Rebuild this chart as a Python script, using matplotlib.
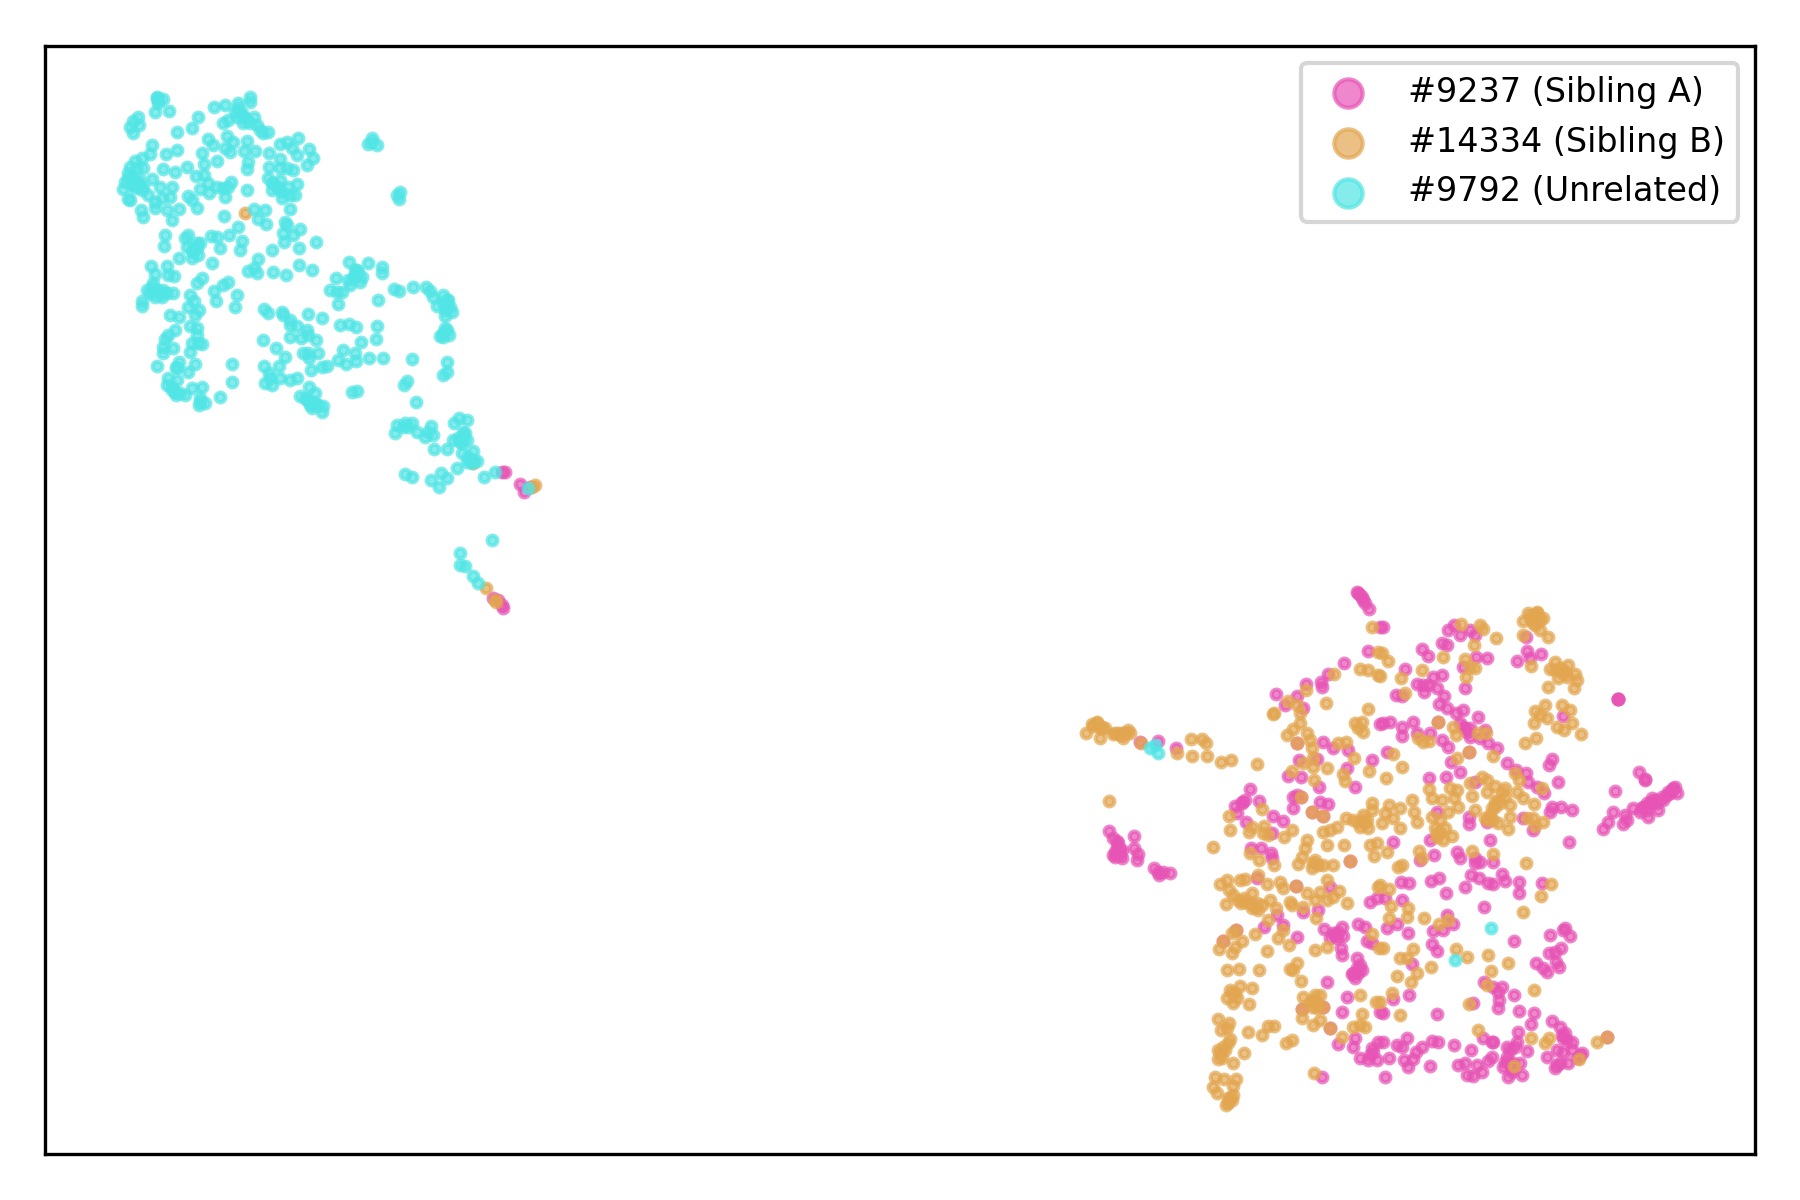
import matplotlib
matplotlib.use("Agg")
import matplotlib.pyplot as plt
import numpy as np

labels = ["#9237 (Sibling A)", "#14334 (Sibling B)", "#9792 (Unrelated)"]
colors = ["#E754B5", "#E3A650", "#52E5E5"]

# Embedding readings, grouped by picture region: (region origin, [(x, y), ...])
cyan_a = [(172,85),(190,88),(165,125),(208,122),(115,140),(100,152),(90,170),(118,165),(100,190),(232,185),(275,175),(295,142),(342,112),(376,105),(450,80),(450,95),(415,100),(405,125),(420,130),(462,142),(370,160),(385,150),(430,160),(450,160),(480,180),(505,187),(490,190),
(325,208),(340,225),(382,197),(398,215),(375,235),(390,245),(440,212),(432,243),(465,243),(157,225),(150,253),(198,252),(230,240),(307,248),(313,283),(352,272),(262,290),(190,297),(226,306),(288,318),(312,315),(445,275),(440,298),(507,250),(540,222),(560,215),(593,205),(575,235),(590,255),(628,237),(640,263),(620,285),(580,300),(560,295),(540,268),(507,290),(540,295),(505,325),(520,340),(535,355),(515,360),(545,385),(570,375),(585,375),(592,342),(565,350),
(125,265),(105,272),(90,290),(110,295),(130,295),(85,310),(75,335),(100,330),(120,330),(68,358),(105,355),(125,360),(90,390),(85,388),(157,327),(145,375),(180,352),(215,352),(185,385),(210,380),(165,395),(122,420),(130,440),(165,415),(200,420),(215,450),(238,417),(265,378),(275,390),(292,415),(300,357),(325,340),(328,368),(350,352),(375,380),(370,355),(393,337),(385,350),(440,360),(373,438),(463,417),(495,420),(473,448),(497,462),(415,472),(570,418),(555,455),(560,465),(550,488),(580,495),(600,477),(552,517),(597,535),(649,517),(427,512),(420,540),(388,495),(352,500),(333,497),(360,535),(517,540),(475,567),(445,603),(462,595),(470,610),(520,607),(557,615),(597,585),(637,600),
(195,495),(193,527),(265,495),(255,503),(290,520),(260,530),(280,545),(295,555),(300,520),(238,565),(275,565),(337,580),
(153,588),(200,588),(165,612),(205,615),(222,618),(160,640),(140,660),(175,660),(200,670),(220,670),(165,680),(185,680),(125,692),(127,708),(290,638),(307,624),(342,662),(370,645),(385,635),(348,694),(412,675),(406,712),(270,675),(283,693),(265,710),(297,720),(285,735),(210,735),(237,742),(270,768),(290,775),(225,780),(205,795),(195,808),(290,795),(275,820),(295,820),(305,822),(270,845),(190,830),(220,835),(188,848),(172,888),(238,875),(228,890),(232,895),(285,882),(265,907),(397,882),(397,937),(205,925),(230,930),(200,945),(215,960),(228,975),(255,975),(275,955),(305,952),(300,985),(315,1000),(298,1005),(360,982),
(492,718),(505,730),(545,725),(550,735),(570,750),(570,765),(590,768),(625,733),(667,745),(622,780),(625,795),(647,810),(602,803),(570,802),(490,810),(527,835),(610,850),(625,850),(653,848),(628,865),(555,862),(538,888),(492,887),(508,910),(540,925),(570,930),(590,925),(495,940),(515,945),(510,925),(632,900),(665,890),(682,888),(715,870),(737,883),(728,840),(766,850),(768,872),(782,817),(808,865),(850,865),(829,808),(832,768),(720,765),(748,762),(767,770),(835,690),(715,703),(690,660),(710,665),(725,665),(708,625),(748,575),(803,580),(745,630),(750,645),(770,600),(785,620),(780,635),(765,615),(847,592),(845,610),(882,657),(897,662),(940,652),(977,652),(990,662),(1000,680),(1030,675),(1045,690),(1012,708),(1040,705),(1055,725),(1035,738),(1035,775),(1020,797),(1048,795),(1030,800),(937,868),(1042,875),(1040,905),(1030,915),(922,932),(913,945),(948,996),(755,967),(772,963),
(628,950),(645,970),(600,978),(615,985),(630,1005),(668,1008),(640,1000),(817,215),(805,222),(830,225),(815,205),(900,365),(890,375),(897,388)]
cyan_a_dense = [(415,115),(425,130),(410,140),(435,145),(440,150),(470,165),(100,320),(110,340),(95,345),(85,325),(115,345),(130,350),(155,650),(165,665),(150,670),(180,670),(190,660),(540,330),(530,350),(545,365),(515,340),(1040,690),(1050,710),(1035,720),(1030,700),(1030,790),(1040,780),(285,530),(275,540),(290,535),(215,950),(225,965),(240,970),(300,995),(620,990),(630,995),(645,1000),(655,1005),(765,600),(775,610),(760,625),(172,80),(175,90),(175,100)]
orange_a = [(435,430)]

cyan_b = [(640,340),(665,365),(635,355),(890,405),(885,430),(910,410),(935,398),(950,425),(975,440),(992,408),(1000,435),(985,425),(1078,385),(1100,390),(1062,400),(1090,425),(1100,450),(1060,450),(1085,460),(1003,478),(1040,478),(1085,488),(1120,483),(1105,500),(1130,512),(1115,520),(1072,535),(915,552),(937,562),(993,570),(1023,548),(1040,565),(1018,590),(1153,562),(1185,547),(1285,595),(1175,750),(1080,790),(1080,825),(1095,828),(1120,858),(1135,878),
(1090,440),(1075,445),(1095,430),(1110,510),(1100,515),(1120,510),(1080,455),(925,410),(915,400)]
orange_b = [(1120,520),(1157,895),(1187,935),(1185,930),(1305,585),(1295,590)]
pink_b = [(1205,545),(1215,545),(1260,582),(1272,605),(1290,590),(1180,925),(1195,930),(1205,945),(1210,955)]

pink_c = [(241,515),(295,513),(348,534),(892,65),(900,75),(910,90),(915,100),(928,118),(925,243),(853,280),(803,313),(782,335),(785,350),(738,342),(648,372),(675,405),(712,378),(728,415),(790,516),(820,535),(865,540),(935,570),(862,595),(885,650),(778,652),(718,570),(770,568),(683,618),(722,620),(700,680),(712,675),(700,715),(780,695),(805,703),(570,657),(597,692),(525,708),(545,700),(555,690),(530,730),(557,755),(638,738),(670,753),(635,790),(572,835),(602,833),(632,850),(635,865),(148,783),(222,798),(160,805),(175,820),(180,840),(165,860),(185,865),(222,835),(235,853),(230,870),(283,893),(960,462),(960,172),
(712,520),(755,725),(788,737),(871,873),(724,680),
(170,830),(175,850),(165,845),(185,840),(180,855),(160,855),(172,812),(895,68),(905,82),(545,695)]
orange_c = [(78,490),(95,462),(112,455),(125,470),(135,475),(120,505),(160,492),(175,490),(190,505),(185,488),(205,480),(210,490),(243,518),(352,550),(392,508),(395,558),(425,508),(438,518),(442,558),(483,576),(512,570),(592,582),(148,693),
(937,172),(955,245),(900,297),(925,300),(955,315),(822,313),(799,400),(925,417),(885,460),(905,455),(895,475),(910,485),(685,392),(737,360),(710,405),(720,430),(642,430),(720,460),(700,478),(680,495),(742,488),(750,510),(755,535),(712,520),(835,520),(858,515),(883,565),(928,603),(800,595),(758,592),(760,565),(728,580),(697,603),(850,613),(855,632),(762,630),(724,680),(755,725),(788,737),(937,700),(857,743),(880,750),(910,735),(900,770),(925,775),(935,720),(605,717),(508,738),(511,780),(567,785),(575,772),(612,767),(610,790),(625,795),(695,780),(673,802),(790,787),(810,780),(830,772),(740,810),(735,835),(725,860),(715,882),(800,825),(853,825),(930,825),(950,820),(943,858),(871,873),(765,870),(775,885),(755,895),(790,885),(818,885),(570,850),(597,870),(642,885),(460,832),
(110,460),(120,475),(100,468),(165,490),(180,495),(195,490),(905,750),(895,755),(915,760),(920,750),(640,432),(760,880)]
cyan_c = [(270,535),(285,525),(295,550)]

pink_d = [(8,172),(205,180),(222,165),(240,195),(270,180),(285,195),(185,218),(200,225),(127,237),(145,257),(287,260),(320,265),(250,290),(254,355),(75,297),(110,343),(130,345),(145,345),(160,320),(185,315),(133,365),(170,355),(48,375),(65,378),(193,378),(178,403),(200,415),(228,430),(250,420),(295,440),(437,200),(442,243),(483,253),(412,273),(450,265),(550,438),(715,388),(715,388),(715,388),(10,458),(30,455),(100,456),(67,470),(67,498),(110,490),(150,490),(185,510),(205,530),(250,470),(270,475),(270,500),(315,480),(300,505),(325,520),(350,535),(20,546),(213,577),(241,606),(148,624),(197,621),(382,580),(408,600),(437,610),(445,635),(470,650),(493,670),(515,568),(507,585),(535,636),(515,710),(542,712),(577,720),(510,725),(430,745),(460,780),(285,635),(170,725),(268,740),(268,763),(320,757),(330,810),(567,815),(150,810),(40,817),(162,855),(230,845),(240,865),(285,865),(300,875),(338,877),(285,880),(120,870),
(778,606),(795,630),(706,663),(700,726),(685,757),(670,778),(730,763),(735,735),(740,750),(760,715),(780,725),(805,740),(800,700),(815,685),(830,700),(835,720),(850,690),(860,675),(875,660),(885,650),(890,670),(175,457),(268,547),
(790,710),(800,720),(820,700),(845,680),(865,665),(880,655),(870,670),(785,715),(810,700),(825,690),(795,628),(255,475),(260,485),(240,460)]
orange_d = [(243,163),(300,165),(308,178),(349,203),(283,226),(190,262),(255,268),(270,290),(285,295),(258,322),(125,300),(25,273),(63,323),(75,370),(5,250),(0,318),
(470,130),(445,130),(430,153),(460,150),(480,150),(490,145),(465,165),(480,180),(430,195),(505,202),(453,288),(525,275),(510,298),(540,295),(565,285),(555,310),(585,312),(535,325),(590,330),(505,350),(583,355),(495,405),(465,422),(480,435),(500,445),(463,458),(547,404),(570,420),(575,458),(530,470),(553,480),(604,492),(467,505),(436,519),(175,457),(220,470),(227,495),(115,505),(130,515),(148,513),(295,490),(318,490),(268,547),(340,558),(232,565),(40,552),(67,592),(18,625),
(148,657),(155,685),(185,690),(210,655),(230,660),(222,685),(235,712),(205,725),(270,640),(275,678),(305,620),(320,630),(345,648),(320,665),(375,655),(375,680),(345,695),(335,715),(360,700),(390,705),(410,665),(430,685),(417,630),(405,608),(485,655),(463,703),(285,720),(315,745),(340,750),(355,760),(385,778),(390,740),(440,745),(460,745),(465,768),(490,757),(95,690),(60,715),(28,705),(15,730),(103,725),(110,757),(40,745),(5,760),(60,775),(155,740),(180,750),(165,775),(195,775),(170,800),(215,798),(190,810),(275,843),(340,853),(118,842),(125,865),(65,885),(55,890),(20,847),(438,880),
(455,135),(470,125),(460,160),(475,145),(465,140),(450,145),(550,300),(545,310),(560,320),(525,300),(330,735),(325,750),(345,710),(355,690),(365,665),(170,790),(180,785)]

pink_e = [(297,75),(310,65),(330,70),(295,65),(590,85),(810,110),(650,195),(613,230),(668,225),(712,262),(728,185),(775,180),(793,238),(845,230),(825,255),(850,258),(810,265),(843,293),(845,315),(895,222),(915,232),(920,272),(935,280),(890,325),(900,345),(880,370),(905,360),(885,385),(800,397),(860,442),(847,487),(950,145),(930,155),(835,582),(885,565),(880,590),(955,575),(900,625),(940,605),(925,630),(950,630),(785,682),(960,485),
(527,240),(490,272),(708,108),(790,470),(725,477),(810,535),(820,250),(830,265),(835,245),(890,355),(895,370),(875,372),(935,595),(930,615)]
orange_e = [(480,103),(500,90),(540,90),(555,88),(507,120),(520,135),(577,128),(553,145),(543,160),(497,162),(590,160),(605,165),(575,175),(595,180),(630,150),(647,175),(620,103),(660,97),(670,113),(708,108),(595,75),(740,130),(800,90),(838,122),(820,140),(800,150),(780,125),(765,150),(690,155),(695,165),(730,170),(768,203),(862,160),(955,110),(625,210),(585,253),(670,240),(653,265),(688,285),(622,303),(527,240),(515,250),(545,273),(490,272),(478,296),(525,290),(516,310),(502,360),(536,357),(598,360),(690,357),(710,340),(700,360),(722,392),(540,407),(575,414),(510,420),(525,430),(500,445),(530,445),(520,460),(568,463),(475,507),(507,518),(500,535),(483,540),(565,547),(607,555),(625,527),(642,528),(510,567),(490,590),(475,600),(473,628),(485,625),(553,610),(518,640),(677,580),(697,570),(465,680),(493,688),(527,687),(520,708),(460,712),(470,730),(505,745),(515,750),(498,765),(520,735),(763,670),
(730,440),(765,435),(780,435),(755,470),(770,475),(790,470),(725,477),(727,505),(760,525),(780,510),(810,535),(845,560),(880,530),(900,525),(915,530),(905,492),(900,436),(947,455),(937,253),(958,295),(800,292),(765,300),
(555,155),(570,160),(585,170),(535,150),(480,610),(495,600),(505,580),(515,430),(510,745),(505,760),(760,450),(770,460),(750,455)]

pink_f = [(272,75),(297,85),(325,100),(340,103),(365,72),(375,92),(418,97),(418,130),(487,98),(152,92),(176,85),(62,97),(88,100),(197,130),(256,112),(65,150),(15,143),(313,172),(200,195),(218,223),(160,243),(190,240),(22,233),(50,223),(85,250),(403,273),(511,256),(555,233),(550,240),(569,257),(155,283),(170,302),(95,343),(507,310),(525,305),(542,295),(527,335),(537,350),(468,340),(490,355),(500,365),(313,397),(340,410),(365,412),(355,425),(358,450),(355,475),(403,436),(278,460),(418,484),(463,490),(454,523),(515,514),(540,530),(555,550),(575,575),(88,436),(40,448),(172,493),(8,488),(415,545),(310,565),(335,575),(340,575),(82,565),(10,575),(50,585),(65,590),(125,590),(108,605),(155,573),(175,575),(222,586),(274,601),(28,625),(72,630),(100,628),(85,650),(150,649),(15,682),(380,590),(410,575),(440,603),(335,620),(325,632),(380,620),(370,650),(400,640),(385,680),(425,675),(420,640),(235,645),(255,640),(260,675),(280,678),(290,645),(305,665),(500,622),(530,600),(550,605),(575,600),(605,610),(525,655),(540,640),(565,640),(595,625),(682,562),
(385,635),(395,655),(375,635),(390,600),(405,590),(550,565),(560,570),(545,555),(530,645),(600,615),(395,665)]
orange_f = [(513,102),(484,138),(430,187),(133,205),(177,222),(203,210),(83,175),(80,200),(33,168),(27,205),(8,295),(100,297),(60,323),(80,325),(152,352),(112,370),(52,378),(93,397),(229,296),(260,322),(325,316),(385,340),(334,364),(322,405),(463,421),(37,430),(268,463),(61,495),(295,540),(453,565),(495,578),(508,563),(652,577),(682,562),(403,647),(597,628),(0,455),(28,118),(0,105)]
cyan_f = [(334,235),(226,331)]

# (origin_x, origin_y, readings) - readings are at 3 units per embedding unit
regions = {
    "pink": [(100,290,pink_b),(1060,570,pink_c),(1380,570,pink_d),(1060,850,pink_e),(1380,850,pink_f)],
    "orange": [(100,70,orange_a),(100,290,orange_b),(1060,570,orange_c),(1380,570,orange_d),(1060,850,orange_e),(1380,850,orange_f)],
    "cyan": [(100,70,cyan_a),(100,70,cyan_a_dense),(100,290,cyan_b),(1060,570,cyan_c),(1380,850,cyan_f)],
}

def collect(name):
    xs, ys = [], []
    for ox, oy, pts in regions[name]:
        a = np.array(pts, dtype=float)
        xs.append(ox + a[:, 0] / 3)
        ys.append(oy + a[:, 1] / 3)
    return np.concatenate(xs), np.concatenate(ys)

fig = plt.figure(figsize=(6, 4), dpi=300)
ax = fig.add_axes([45/1800, 1-1154/1200, (1755-45)/1800, (1154-46)/1200])
for name, col, lab in zip(["pink", "orange", "cyan"], colors, labels):
    x, y = collect(name)
    ax.scatter(x, y, s=5.5, c=col, alpha=0.7, linewidths=1.0, edgecolors=col, label=lab)
ax.set_xlim(45, 1755)
ax.set_ylim(1154, 46)
ax.set_xticks([])
ax.set_yticks([])
ax.legend(loc="upper right", fontsize=8, markerscale=2.9)
fig.savefig("out.png", dpi=300)
